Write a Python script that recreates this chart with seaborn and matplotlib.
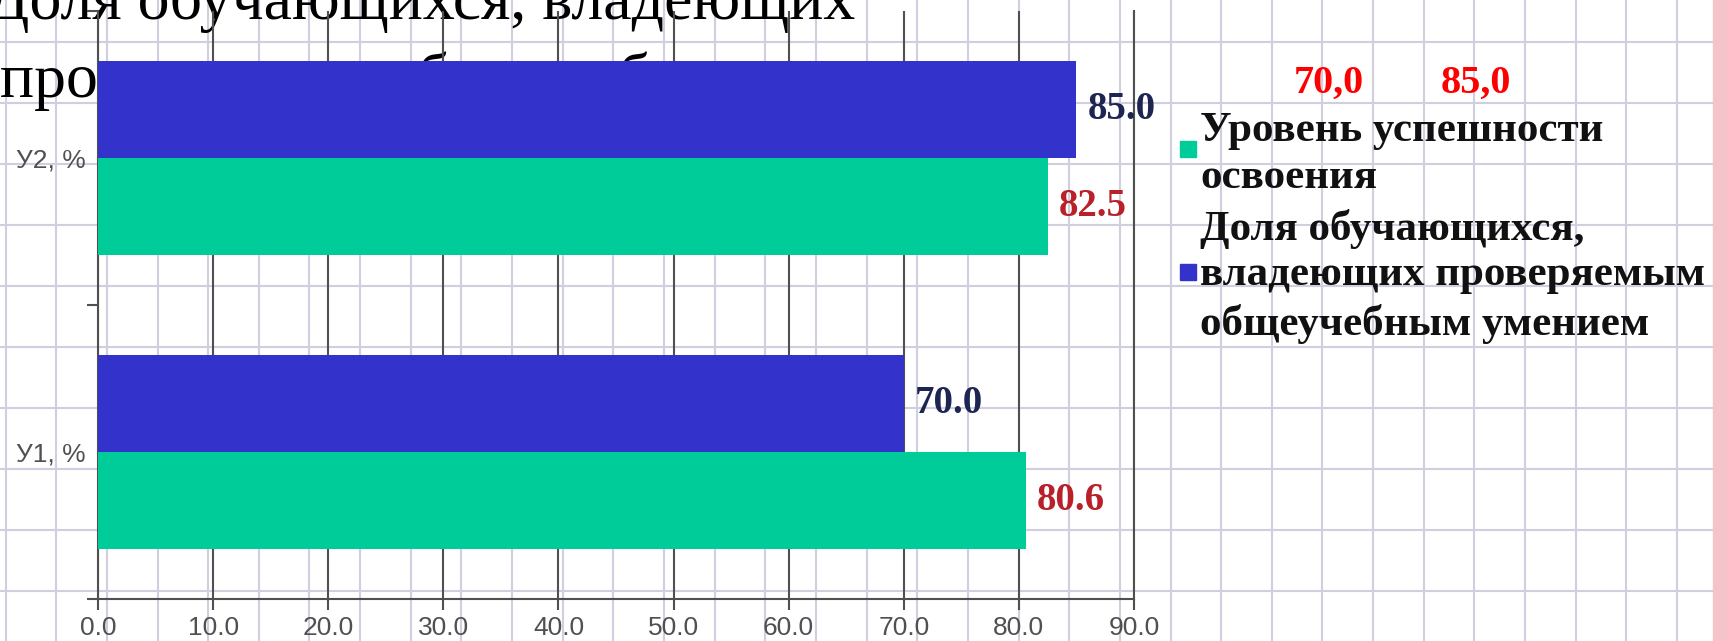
import matplotlib
matplotlib.use("Agg")
import matplotlib.pyplot as plt
import seaborn as sns
import pandas as pd
from matplotlib.patches import Rectangle

# ---------------- data ----------------
categories = ["У2, %", "У1, %"]
series_share = "Доля обучающихся, владеющих проверяемым общеучебным умением"
series_success = "Уровень успешности освоения"
share_values = [85.0, 70.0]      # blue bars
success_values = [82.5, 80.6]    # green bars
x_ticks = [0, 10, 20, 30, 40, 50, 60, 70, 80, 90]
x_tick_labels = ["0.0", "10.0", "20.0", "30.0", "40.0", "50.0", "60.0", "70.0", "80.0", "90.0"]
legend_lines_success = ["Уровень успешности", "освоения"]
legend_lines_share = ["Доля обучающихся,", "владеющих проверяемым", "общеучебным умением"]
title_lines = ["Доля обучающихся, владеющих", "проверяемым общеучебным умением"]
note_values = ["70,0", "85,0"]

BLUE = "#3333CC"
GREEN = "#00CC99"
NAVY = "#1d2550"
DARKRED = "#b8202a"
AXIS = "#505050"
PAPER = "#cfcfdf"

W, H = 1727, 641
sns.set_theme(style="white")
plt.rcParams["font.family"] = ["Liberation Sans", "DejaVu Sans"]

fig = plt.figure(figsize=(W / 100, H / 100), dpi=100)
fig.patch.set_facecolor("white")

# ---------------- grid-paper background ----------------
bg = fig.add_axes([0, 0, 1, 1], zorder=0)
bg.set_xlim(0, W)
bg.set_ylim(H, 0)
bg.axis("off")
paper_right = 1713
k = 0
while 5.6 + 50.65 * k < paper_right:
    bg.plot([5.6 + 50.65 * k] * 2, [0, H], color=PAPER, lw=1.5, zorder=0)
    k += 1
k = 0
while 41.5 + 61.1 * k < H:
    bg.plot([0, paper_right], [41.5 + 61.1 * k] * 2, color=PAPER, lw=1.5, zorder=0)
    k += 1
bg.add_patch(Rectangle((paper_right, 0), W - paper_right, H, color="#f5c4cb", zorder=1))

# title text lying behind the chart (cut at the top edge as in the source)
bg.text(-14, 19, title_lines[0], fontsize=46, family="Liberation Serif",
        color="black", va="baseline", ha="left", zorder=2)
bg.text(0, 97, title_lines[1], fontsize=46, family="Liberation Serif",
        color="black", va="baseline", ha="left", zorder=2)

# ---------------- chart ----------------
ax = fig.add_axes([98 / W, 1 - 599 / H, (1134 - 98) / W, (599 - 10.5) / H], zorder=2)
ax.patch.set_alpha(0)

df = pd.DataFrame({
    "category": categories * 2,
    "series": [series_share] * len(categories) + [series_success] * len(categories),
    "value": share_values + success_values,
})

sns.barplot(data=df, y="category", x="value", hue="series", order=categories,
            hue_order=[series_share, series_success],
            palette={series_share: BLUE, series_success: GREEN},
            orient="h", width=0.66, saturation=1, linewidth=0,
            legend=False, ax=ax, zorder=3)

label_colors = [NAVY, DARKRED]
for cont, col in zip(ax.containers, label_colors):
    ax.bar_label(cont, fmt="%.1f", padding=8, color=col, fontsize=28,
                 family="Liberation Serif", fontweight="bold")

ax.set_xlim(0, 90)
ax.set_ylim(1.5, -0.5)
ax.set_xticks(x_ticks)
ax.set_xticklabels(x_tick_labels)
ax.set_yticks(range(len(categories)))
ax.set_yticklabels(categories)
ax.set_yticks([-0.5, 0.5, 1.5], minor=True)
ax.set_xlabel("")
ax.set_ylabel("")

ax.xaxis.grid(True, color=AXIS, lw=1.5, zorder=1)
ax.yaxis.grid(False)
ax.set_axisbelow(True)
ax.spines["top"].set_visible(False)
for side in ["left", "bottom", "right"]:
    ax.spines[side].set_visible(True)
    ax.spines[side].set_color(AXIS)
    ax.spines[side].set_linewidth(1.5)

ax.tick_params(axis="x", which="major", length=8, width=1.5, color=AXIS,
               pad=4.5, labelsize=19, labelcolor=AXIS, bottom=True)
ax.tick_params(axis="y", which="major", length=0, pad=9,
               labelsize=19, labelcolor=AXIS, left=True)
ax.tick_params(axis="y", which="minor", length=8, width=1.5, color=AXIS, left=True)

# ---------------- legend ----------------
leg_font = dict(fontsize=31, family="Liberation Serif", fontweight="bold",
                color="#111111", va="center", ha="left", zorder=5)
ov = fig.add_axes([0, 0, 1, 1], zorder=5)
ov.set_xlim(0, W)
ov.set_ylim(H, 0)
ov.axis("off")
for txt, y in zip(legend_lines_success, [131, 178]):
    ov.text(1200, y, txt, **leg_font)
for txt, y in zip(legend_lines_share, [229, 275, 324]):
    ov.text(1200, y, txt, **leg_font)
ov.add_patch(Rectangle((1180, 141), 16, 16, color=GREEN))
ov.add_patch(Rectangle((1180, 264), 16, 16, color=BLUE))

for txt, x in zip(note_values, [1294, 1441]):
    ov.text(x, 83, txt, fontsize=29, family="Liberation Serif", fontweight="bold",
            color="#ff0000", va="center", ha="left")

fig.savefig("out.png", dpi=100)
